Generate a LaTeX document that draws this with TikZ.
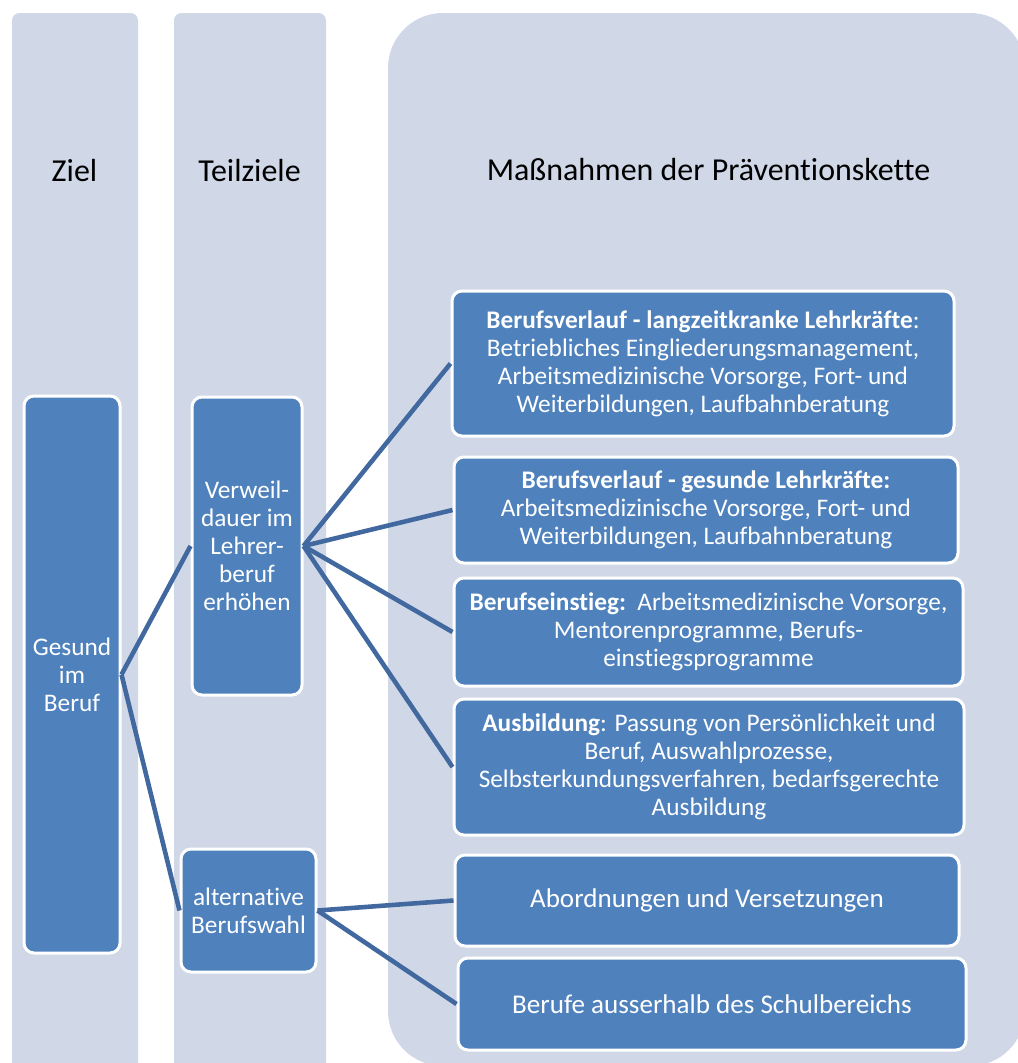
\documentclass[tikz,border=0pt]{standalone}
\usepackage{fontspec}
\setmainfont[Ligatures=NoCommon]{Carlito}
\definecolor{colfill}{HTML}{D0D8E8}
\definecolor{boxfill}{HTML}{4F81BD}
\definecolor{linkcol}{HTML}{41699F}
\begin{document}
\begin{tikzpicture}
  [box/.style={rectangle,rounded corners=0.2cm,fill=boxfill,draw=white,line width=0.06cm,
     text=white,align=center,inner sep=2pt,font=\fontsize{14.4}{15.9}\selectfont},
   bigbox/.style={box,font=\fontsize{15.4}{17}\selectfont},
   head/.style={text=black,font=\fontsize{18.2}{20}\selectfont},
   link/.style={draw=linkcol,line width=2.6pt}]
  \useasboundingbox (0,0) rectangle (20.36,-21.26);
  \clip (0,0) rectangle (20.36,-21.26);

  % background columns
  \fill[colfill,rounded corners=0.15cm] (0.24,-0.26) rectangle (2.76,-21.8);
  \fill[colfill,rounded corners=0.15cm] (3.48,-0.26) rectangle (6.52,-21.8);
  \fill[colfill,rounded corners=1.1cm] (7.76,-0.26) rectangle (20.5,-21.32);

  \node[head] (ziel) at (1.49,-3.4) {Ziel};
  \node[head] (teil) at (4.99,-3.4) {Teilziele};
  \node[head] (mass) at (14.17,-3.4) {Maßnahmen der Präventionskette};

  \node[box,minimum width=1.92cm,minimum height=11.14cm] (gesund) at (1.44,-13.49) {Gesund\\im\\Beruf};
  \node[box,minimum width=2.2cm,minimum height=5.96cm] (verweil) at (4.94,-10.92)
    {Verweil-\\dauer im\\Lehrer-\\beruf\\erhöhen};
  \node[box,minimum width=2.7cm,minimum height=2.46cm] (altern) at (4.97,-18.21) {alternative\\Berufswahl};

  \node[box,minimum width=10.04cm,minimum height=2.9cm] (langzeit) at (14.06,-7.27)
    {\textbf{Berufsverlauf - langzeitkranke Lehrkräfte}:\\Betriebliches Eingliederungsmanagement,\\
     Arbeitsmedizinische Vorsorge, Fort- und\\Weiterbildungen, Laufbahnberatung};
  \node[box,minimum width=10.08cm,minimum height=2.12cm] (gesunde) at (14.12,-10.2)
    {\textbf{Berufsverlauf - gesunde Lehrkräfte:}\\Arbeitsmedizinische Vorsorge, Fort- und\\
     Weiterbildungen, Laufbahnberatung};
  \node[box,minimum width=10.18cm,minimum height=2.16cm] (einstieg) at (14.17,-12.64)
    {\textbf{Berufseinstieg:}\ \ Arbeitsmedizinische Vorsorge,\\Mentorenprogramme, Berufs-\\
     einstiegsprogramme};
  \node[box,minimum width=10.2cm,minimum height=2.72cm] (ausbildung) at (14.18,-15.34)
    {\textbf{Ausbildung}: Passung von Persönlichkeit und\\Beruf, Auswahlprozesse,\\
     Selbsterkundungsverfahren, bedarfsgerechte\\Ausbildung};
  \node[bigbox,minimum width=10.08cm,minimum height=1.82cm] (abord) at (14.14,-18.01)
    {Abordnungen und Versetzungen};
  \node[bigbox,minimum width=10.16cm,minimum height=1.84cm] (ausser) at (14.24,-20.08)
    {Berufe ausserhalb des Schulbereichs};

  \foreach \from/\to in {gesund/verweil,gesund/altern,verweil/langzeit,verweil/gesunde,
      verweil/einstieg,verweil/ausbildung,altern/abord,altern/ausser}
    \draw[link] (\from.east) -- (\to.west);

\end{tikzpicture}
\end{document}
